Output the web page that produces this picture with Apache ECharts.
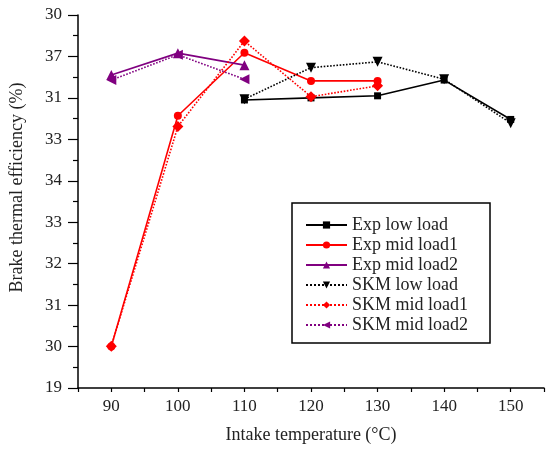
<!DOCTYPE html>
<html>
<head>
<meta charset="utf-8">
<script src="https://cdn.jsdelivr.net/npm/echarts@6/dist/echarts.min.js"></script>
<style>html,body{margin:0;padding:0;background:#fff}#c{width:547px;height:451px}</style>
</head>
<body>
<div id="c"></div>
<script>
// y tick labels, bottom to top (as printed in the reference)
const yTickLabels = ['19','30','31','32','33','34','33','31','37','30'];
const xTickLabels = [90,100,110,120,130,140,150];

const expLowX = [110,120,130,140,150];
const expLowY = [6.95,7.0,7.05,7.43,6.48];
const expMid1X = [90,100,110,120,130];
const expMid1Y = [1.0,6.57,8.09,7.41,7.41];
const expMid2X = [90,100,110];
const expMid2Y = [7.55,8.08,7.79];
const skmLowX = [110,120,130,140,150];
const skmLowY = [6.97,7.73,7.87,7.45,6.39];
const skmMid1X = [90,100,110,120,130];
const skmMid1Y = [1.01,6.31,8.37,7.03,7.29];
const skmMid2X = [90,100,110];
const skmMid2Y = [7.43,8.04,7.45];

const zip = (xs, ys) => xs.map((x, i) => [x, ys[i]]);
const BLACK = '#000000', RED = '#ff0000', PURPLE = '#800080';
const FONT = 'Liberation Serif';

function ser(name, xs, ys, color, dotted, symbol, size, rot) {
  return {
    name, type: 'line', data: zip(xs, ys),
    symbol, symbolSize: size, symbolRotate: rot || 0,
    itemStyle: { color },
    lineStyle: { color, width: 1.6, type: dotted ? 'dotted' : 'solid' },
    emphasis: { disabled: true }, animation: false
  };
}

const chart = echarts.init(document.getElementById('c'));
chart.setOption({
  backgroundColor: '#fff',
  animation: false,
  grid: { left: 77, top: 15, width: 475, bottom: 63, containLabel: false },
  xAxis: {
    type: 'value', min: 85, max: 155, interval: 5,
    name: 'Intake temperature (°C)', nameLocation: 'middle', nameGap: 38,
    nameTextStyle: { fontFamily: FONT, fontSize: 18, color: '#222' },
    axisLine: { lineStyle: { color: '#000', width: 1.5 } },
    axisTick: { show: true, length: 4, lineStyle: { color: '#000', width: 1.2 } },
    axisLabel: {
      fontFamily: FONT, fontSize: 17, color: '#222', margin: 10,
      formatter: v => (xTickLabels.indexOf(v) >= 0 ? String(v) : '')
    },
    splitLine: { show: false }
  },
  yAxis: {
    type: 'value', min: 0, max: 9, interval: 1,
    name: 'Brake thermal efficiency (%)', nameLocation: 'middle', nameGap: 52,
    nameTextStyle: { fontFamily: FONT, fontSize: 18, color: '#222', padding: [0, 0, 0, 28] },
    axisLine: { show: true, lineStyle: { color: '#000', width: 1.5 } },
    axisTick: { show: true, length: 10, lineStyle: { color: '#000', width: 1.2 } },
    minorTick: { show: true, splitNumber: 2, length: 5, lineStyle: { color: '#000', width: 1.2 } },
    axisLabel: {
      fontFamily: FONT, fontSize: 17, color: '#222', margin: 16,
      formatter: v => yTickLabels[Math.round(v)]
    },
    splitLine: { show: false }
  },
  legend: {
    orient: 'vertical', left: 292, top: 203,
    padding: [13, 22, 9, 13],
    itemWidth: 41, itemHeight: 9, itemGap: 2,
    borderColor: '#000', borderWidth: 1.5,
    textStyle: { fontFamily: FONT, fontSize: 18, color: '#222', lineHeight: 18 },
    data: ['Exp low load','Exp mid load1','Exp mid load2','SKM low load','SKM mid load1','SKM mid load2']
  },
  series: [
    ser('Exp low load', expLowX, expLowY, BLACK, false, 'rect', 7),
    ser('Exp mid load1', expMid1X, expMid1Y, RED, false, 'circle', 8),
    ser('Exp mid load2', expMid2X, expMid2Y, PURPLE, false, 'triangle', 10),
    ser('SKM low load', skmLowX, skmLowY, BLACK, true, 'triangle', 10, 180),
    ser('SKM mid load1', skmMid1X, skmMid1Y, RED, true, 'diamond', 11),
    ser('SKM mid load2', skmMid2X, skmMid2Y, PURPLE, true, 'triangle', 10, 90)
  ]
});
</script>
</body>
</html>
